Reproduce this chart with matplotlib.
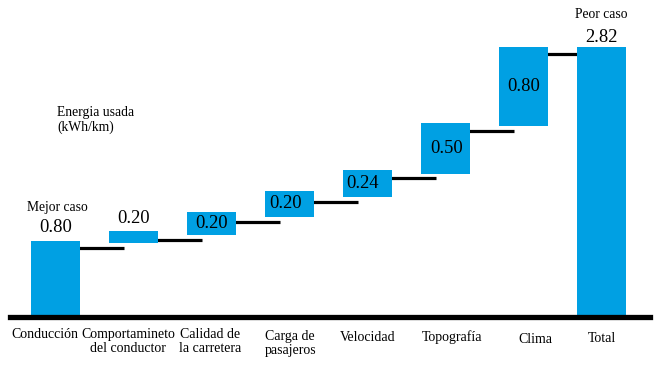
import matplotlib
matplotlib.use("Agg")
import matplotlib.pyplot as plt

categories = ["Conducción", "Comportamineto\ndel conductor", "Calidad de\nla carretera",
              "Carga de\npasajeros", "Velocidad", "Topografía", "Clima", "Total"]
value_labels = ["0.80", "0.20", "0.20", "0.20", "0.24", "0.50", "0.80", "2.82"]
# bar extents as drawn in the picture (kWh/km)
bar_bottom = [0.00, 0.765, 0.85, 1.04, 1.25, 1.49, 1.99, 0.00]
bar_top = [0.79, 0.89, 1.09, 1.31, 1.53, 2.02, 2.82, 2.82]
# connector levels between consecutive bars
connector_levels = [0.71, 0.80, 0.985, 1.195, 1.447, 1.94, 2.746]

BLUE = "#00A0E3"
plt.rcParams['font.family'] = ['Liberation Serif', 'DejaVu Serif']

fig = plt.figure(figsize=(6.58, 3.65), dpi=100)
ax = fig.add_axes([0, 0, 1, 1])
ax.set_xlim(-0.7115, 7.724)
ax.set_ylim(-0.514, 3.312)
ax.axis('off')

x = list(range(len(categories)))
w = 0.64
heights = [t - b for t, b in zip(bar_top, bar_bottom)]
ax.bar(x, heights, bottom=bar_bottom, width=w, color=BLUE, zorder=3)

for i, lvl in enumerate(connector_levels):
    ax.plot([x[i] + w / 2 - 0.04, x[i + 1] - w / 2 + 0.2], [lvl, lvl],
            color='black', lw=2.3, solid_capstyle='butt', zorder=2)

ax.axhline(-0.01, xmin=0.015, xmax=0.988, color='black', lw=3.8, zorder=4)

# value labels
label_inside_dx = [0, 0, 0, -0.05, -0.07, 0.02, 0, 0]
above_offset = {0: 3, 1: 3, 7: 1}
for i, lab in enumerate(value_labels):
    if i in above_offset:
        ax.annotate(lab, (x[i], bar_top[i]), xytext=(0, above_offset[i]),
                    textcoords='offset points', ha='center', va='bottom', fontsize=13.3)
    else:
        ax.text(x[i] + label_inside_dx[i], (bar_top[i] + bar_bottom[i]) / 2, lab,
                ha='center', va='center', fontsize=13.3)

ax.annotate("Mejor caso", (x[0], bar_top[0]), xytext=(1, 19), textcoords='offset points',
            ha='center', va='bottom', fontsize=9.8)
ax.annotate("Peor caso", (x[7], bar_top[7]), xytext=(0, 19), textcoords='offset points',
            ha='center', va='bottom', fontsize=9.8)

ax.text(0.02, 2.05, "Energia usada\n(kWh/km)", ha='left', va='center', fontsize=9.8,
        linespacing=1.15)

label_dx = [-0.13, -0.07, -0.02, 0.01, 0.0, 0.08, 0.15, 0.0]
label_dy = [0.0, 0.0, 0.0, -0.02, -0.03, -0.02, -0.05, -0.04]
for i, c in enumerate(categories):
    ax.text(x[i] + label_dx[i], -0.125 + label_dy[i], c, ha='center', va='top',
            fontsize=10, linespacing=1.15)

fig.savefig("out.png", dpi=100)
